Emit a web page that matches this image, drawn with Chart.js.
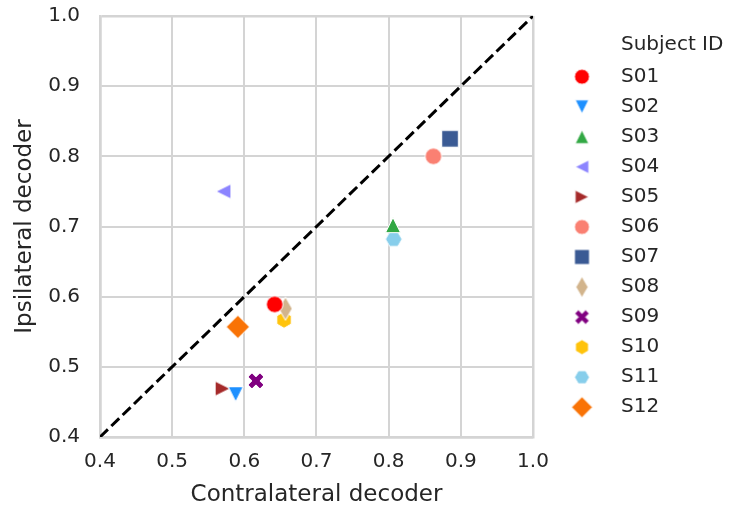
<!DOCTYPE html>
<html lang="en">
<head>
  <meta charset="UTF-8" />
  <title>Contralateral vs ipsilateral decoder</title>
  <script src="https://cdn.jsdelivr.net/npm/chart.js"></script>
  <style>
    body { margin: 0; background: #ffffff; }
    #wrap { width: 731px; height: 508px; position: relative; }
  </style>
</head>
<body>
  <div id="wrap"><canvas id="scatter"></canvas></div>

  <script>
    // data
    const subjects = ['S01', 'S02', 'S03', 'S04', 'S05', 'S06', 'S07', 'S08', 'S09', 'S10', 'S11', 'S12'];
    const contralateral = [0.642, 0.588, 0.806, 0.571, 0.570, 0.862, 0.885, 0.657, 0.616, 0.655, 0.807, 0.591];
    const ipsilateral   = [0.589, 0.461, 0.702, 0.750, 0.469, 0.800, 0.825, 0.583, 0.480, 0.567, 0.682, 0.557];
    const axisTicks = [0.4, 0.5, 0.6, 0.7, 0.8, 0.9, 1.0];

    // styles
    const colors = ['#ff0000', '#1e90ff', '#32a844', '#8c84ff', '#a52a2a', '#fa8072',
                    '#3a5a94', '#d2b48c', '#800080', '#ffc30b', '#87ceeb', '#f97306'];
    const markers = ['o', 'v', '^', '<', '>', 'o', 's', 'd', 'X', 'h', 'H', 'D'];

    const textColor = '#262626';
    const gridColor = '#d4d4d4';
    const font = '"DejaVu Sans", sans-serif';

    // matplotlib-like marker drawn into a small canvas, used as pointStyle
    function markerCanvas(shape, color, scale) {
      const size = Math.ceil(30 * scale);
      const c = document.createElement('canvas');
      c.width = size; c.height = size;
      const ctx = c.getContext('2d');
      ctx.translate(size / 2, size / 2);
      ctx.scale(scale, scale);
      ctx.beginPath();
      const poly = pts => { pts.forEach(([x, y], i) => i ? ctx.lineTo(x, y) : ctx.moveTo(x, y)); ctx.closePath(); };
      const t = 7.5;
      switch (shape) {
        case 'o': ctx.arc(0, 0, 8.3, 0, Math.PI * 2); break;
        case '^': poly([[0, -t], [t, t], [-t, t]]); break;
        case 'v': poly([[0, t], [t, -t], [-t, -t]]); break;
        case '<': poly([[-t, 0], [t, -t], [t, t]]); break;
        case '>': poly([[t, 0], [-t, -t], [-t, t]]); break;
        case 's': poly([[-8.3, -8.3], [8.3, -8.3], [8.3, 8.3], [-8.3, 8.3]]); break;
        case 'D': poly([[0, -11.6], [11.6, 0], [0, 11.6], [-11.6, 0]]); break;
        case 'd': poly([[0, -11.6], [6.8, 0], [0, 11.6], [-6.8, 0]]); break;
        case 'X': {
          const k = 16;
          poly([[-0.25, -0.5], [0, -0.25], [0.25, -0.5], [0.5, -0.25], [0.25, 0], [0.5, 0.25],
                [0.25, 0.5], [0, 0.25], [-0.25, 0.5], [-0.5, 0.25], [-0.25, 0], [-0.5, -0.25]]
                .map(([x, y]) => [x * k, y * k]));
          break;
        }
        case 'h': case 'H': {
          const off = shape === 'h' ? -Math.PI / 2 : 0;
          const pts = [];
          for (let i = 0; i < 6; i++) pts.push([8.3 * Math.cos(off + i * Math.PI / 3), 8.3 * Math.sin(off + i * Math.PI / 3)]);
          poly(pts);
          break;
        }
      }
      ctx.fillStyle = color;
      ctx.fill();
      ctx.lineWidth = 1;
      ctx.strokeStyle = '#ffffff';
      ctx.stroke();
      return c;
    }

    const plotMarkers = subjects.map((s, i) => markerCanvas(markers[i], colors[i], 1));
    const legendMarkers = subjects.map((s, i) => markerCanvas(markers[i], colors[i], 0.9));

    const datasets = [{
      label: 'identity',
      data: [{ x: axisTicks[0], y: axisTicks[0] }, { x: axisTicks[axisTicks.length - 1], y: axisTicks[axisTicks.length - 1] }],
      showLine: true,
      borderColor: '#000000',
      borderWidth: 3,
      borderDash: [11, 4.8],
      pointRadius: 0,
      order: 0
    }];
    subjects.forEach((s, i) => {
      datasets.push({
        label: s,
        data: [{ x: contralateral[i], y: ipsilateral[i] }],
        pointStyle: plotMarkers[i],
        backgroundColor: colors[i],
        order: 1
      });
    });

    // legend on the right, drawn the same way seaborn lays it out
    const subjectLegend = {
      id: 'subjectLegend',
      afterDraw(chart) {
        const ctx = chart.ctx;
        ctx.save();
        ctx.fillStyle = textColor;
        ctx.font = '20px ' + font;
        ctx.textBaseline = 'middle';
        ctx.textAlign = 'left';
        ctx.fillText('Subject ID', 621, 45);
        subjects.forEach((s, i) => {
          const y = 76.7 + i * 30.05;
          const m = legendMarkers[i];
          ctx.drawImage(m, 582 - m.width / 2, y - m.height / 2);
          ctx.fillText(s, 621, y);
        });
        ctx.restore();
      }
    };

    const edgeWidth = c => (c.index === 0 || c.index === axisTicks.length - 1) ? 2.5 : 2;

    const axis = (title, isX) => ({
      type: 'linear',
      min: axisTicks[0],
      max: axisTicks[axisTicks.length - 1],
      afterBuildTicks: scale => { scale.ticks = axisTicks.map(v => ({ value: v })); },
      afterFit: scale => {
        if (isX) { scale.height = 71; scale.paddingLeft = 0; scale.paddingRight = 0; }
        else { scale.width = 100; scale.paddingTop = 0; scale.paddingBottom = 0; }
      },
      grid: { color: gridColor, lineWidth: edgeWidth, drawTicks: false },
      border: { color: gridColor, width: 2.5 },
      ticks: {
        color: textColor,
        font: { family: font, size: 20 },
        padding: isX ? 13 : 20,
        callback: v => v.toFixed(1)
      },
      title: {
        display: true,
        text: title,
        color: textColor,
        font: { family: font, size: 23, lineHeight: 1.1 },
        padding: isX ? { top: 0, bottom: 0 } : { top: 12, bottom: 0 }
      }
    });

    new Chart(document.getElementById('scatter'), {
      type: 'scatter',
      data: { datasets },
      options: {
        responsive: true,
        maintainAspectRatio: false,
        animation: false,
        layout: { padding: { left: 0, top: 16, right: 198, bottom: 0 } },
        plugins: { legend: { display: false }, tooltip: { enabled: false } },
        scales: {
          x: axis('Contralateral decoder', true),
          y: axis('Ipsilateral decoder', false)
        }
      },
      plugins: [subjectLegend]
    });
  </script>
</body>
</html>
